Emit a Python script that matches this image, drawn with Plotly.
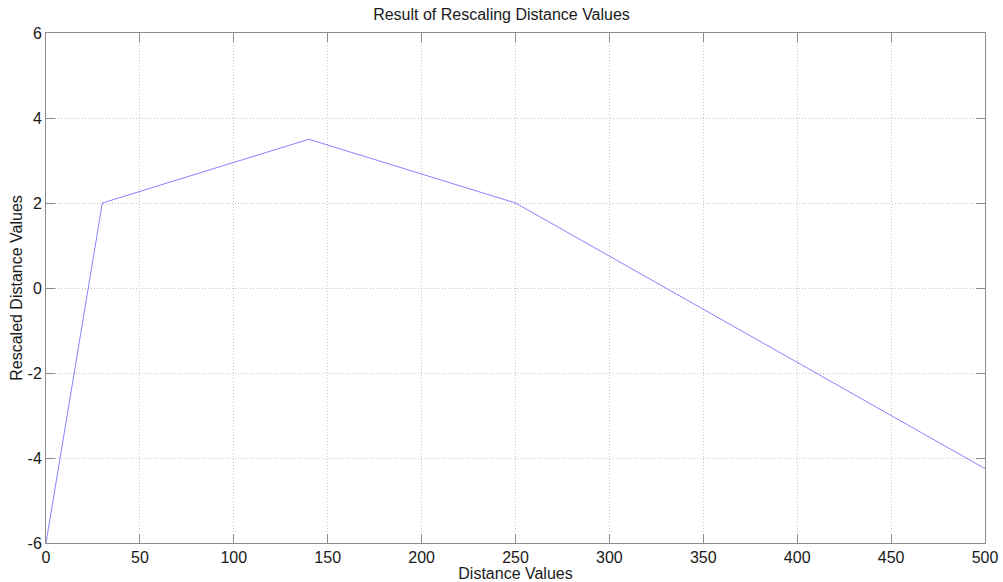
import plotly.graph_objects as go

# Piecewise rescaling of distance values
distance = [0, 30, 140, 250, 500]
rescaled = [-6, 2, 3.5, 2, -4.25]

x_ticks = [0, 50, 100, 150, 200, 250, 300, 350, 400, 450, 500]
y_ticks = [-6, -4, -2, 0, 2, 4, 6]

FONT = "Liberation Sans, Arial"

fig = go.Figure()
fig.add_trace(go.Scatter(
    x=distance, y=rescaled, mode="lines",
    line=dict(color="#3333ff", width=0.6),
    showlegend=False, hoverinfo="skip",
))

axis_common = dict(
    showline=True, linecolor="#8c8c8c", linewidth=1, mirror="ticks",
    ticks="inside", ticklen=9, tickcolor="#8c8c8c", tickwidth=1,
    showgrid=True, gridcolor="#c4c4c4", griddash="1px,2px", gridwidth=1,
    zeroline=False, automargin=False,
    tickfont=dict(family=FONT, size=16, color="#1a1a1a"),
    title_font=dict(family=FONT, size=16, color="#1a1a1a"),
)

fig.update_xaxes(
    range=[0, 500], tickvals=x_ticks, ticktext=[str(v) for v in x_ticks],
    title_text="Distance Values", title_standoff=0, **axis_common,
)
fig.update_yaxes(
    range=[-6, 6], tickvals=y_ticks, ticktext=[str(v) for v in y_ticks],
    title_text="Rescaled Distance Values", title_standoff=0, **axis_common,
)

fig.update_layout(
    width=1003, height=582,
    margin=dict(l=46, r=18, t=33, b=39),
    paper_bgcolor="white", plot_bgcolor="white",
    title=dict(
        text="Result of Rescaling Distance Values",
        x=0.5, xanchor="center", y=1 - 14.5 / 582, yanchor="middle",
        font=dict(family=FONT, size=16, color="#1a1a1a"),
    ),
)

fig.write_html("out.html")
